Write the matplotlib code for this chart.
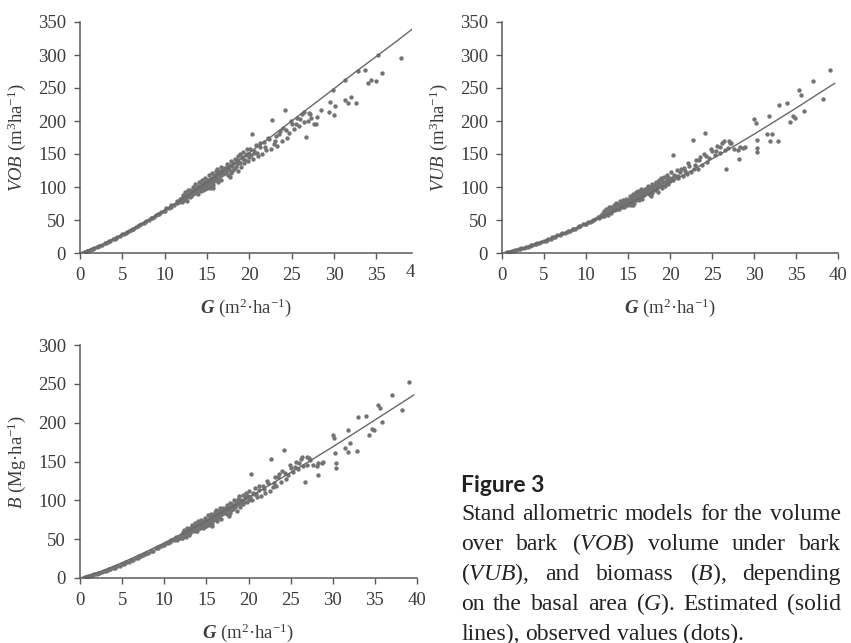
import numpy as np
import matplotlib
matplotlib.use("Agg")
import matplotlib.pyplot as plt

# observed stands (same plots in every panel), G <= 28
G_common = [0.6, 0.9, 1.2, 1.4, 1.7, 2.0, 2.3, 2.6, 2.9, 3.1, 3.4, 3.6, 3.9, 4.1, 4.4, 4.7, 5.0, 5.2, 5.5, 5.8,
            6.0, 6.3, 6.6, 6.9, 7.2, 7.5, 7.8, 8.1, 8.4, 8.7, 9.0, 9.3, 9.6, 9.9, 10.2, 10.5, 10.8, 11.1, 11.4, 11.7,
            12.0, 12.1, 12.2, 12.3, 12.4, 12.5, 12.6, 12.7, 12.8, 12.9, 13.0, 13.1, 13.2, 13.3, 13.4, 13.5, 13.6, 13.7,
            13.8, 13.9, 14.0, 14.1, 14.2, 14.3, 14.4, 14.5, 14.6, 14.7, 14.8, 14.9, 14.95, 15.0, 15.1, 15.2, 15.3, 15.4,
            15.5, 15.6, 15.65, 15.7, 15.8, 15.85, 15.9, 16.0, 16.1, 16.2, 16.3, 16.4, 16.5, 16.6, 16.7, 16.8, 16.9, 17.0,
            17.2, 17.4, 17.5, 17.6, 17.7, 17.8, 17.9, 18.0, 18.2, 18.3, 18.5, 18.6, 18.7, 18.8, 18.9, 19.0, 19.2, 19.3,
            19.4, 19.6, 19.7, 19.8, 19.9, 20.0, 20.1, 20.3, 20.4, 20.6, 20.8, 21.0, 21.2, 21.5, 21.7, 22.0, 22.3, 22.5,
            22.7, 22.9, 23.1, 23.3, 23.6, 23.8, 24.0, 24.2, 24.4, 24.7, 25.0, 25.3, 25.6, 25.9, 26.2, 26.5, 26.7, 27.0,
            27.3, 27.6]
VOB_common = [2.0, 3.5, 4.9, 5.8, 7.6, 9.0, 10.9, 12.4, 14.6, 15.2, 17.6, 18.3, 20.8, 21.3, 24.0, 25.4, 28.1, 28.6, 31.8, 32.6,
              35.4, 36.5, 39.6, 40.6, 44.1, 45.0, 48.6, 49.5, 53.2, 54.0, 57.9, 58.6, 62.8, 63.5, 67.9, 68.2, 72.8, 73.0, 78.5, 77.2,
              84, 78, 88, 80, 92, 83, 79, 95, 86, 90, 96, 86, 92, 100, 89, 95, 104, 93,
              99, 90, 108, 96, 102, 94, 111, 100, 106, 97, 113, 103, 99, 110, 104, 118, 99, 112,
              107, 121, 98, 103, 115, 118, 110, 124, 113, 127, 108, 120, 116, 131, 111, 124, 119, 129,
              122, 135, 118, 128, 115, 139, 125, 132, 128, 143, 135, 124, 147, 138, 150, 131, 142, 153,
              136, 148, 157, 140, 150, 145, 158, 180, 143, 152, 163, 147, 160, 150, 168, 156, 172, 158,
              202, 165, 178, 162, 185, 170, 190, 216, 175, 182, 195, 188, 205, 193, 210, 198, 176, 212,
              204, 196]
VUB_common = [1.3, 2.2, 3.1, 3.7, 4.9, 5.8, 7.0, 8.0, 9.4, 9.8, 11.4, 11.8, 13.5, 13.9, 15.7, 16.6, 18.5, 18.9, 21.1, 21.7,
              23.6, 24.4, 26.6, 27.3, 29.8, 30.4, 33.0, 33.7, 36.3, 36.9, 39.7, 40.2, 43.3, 43.8, 47.0, 47.3, 50.6, 50.8, 54.8, 53.9,
              60, 56, 64, 58, 66, 60, 57, 69, 62, 65, 70, 63, 67, 73, 65, 69, 76, 68,
              72, 66, 79, 70, 74, 69, 81, 73, 77, 71, 82, 75, 72, 81, 77, 87, 73, 83,
              79, 90, 73, 76, 85, 87, 81, 92, 84, 94, 80, 89, 86, 97, 82, 92, 88, 97,
              92, 101, 89, 96, 86, 104, 94, 99, 96, 107, 101, 93, 110, 104, 113, 98, 107, 115,
              102, 111, 118, 105, 113, 109, 122, 148, 110, 117, 126, 113, 123, 116, 129, 120, 132, 122,
              171, 127, 141, 128, 146, 134, 150, 182, 138, 144, 154, 149, 162, 152, 166, 156, 128, 170,
              166, 158]
B_common = [1.3, 2.1, 3.0, 3.6, 4.7, 5.6, 6.8, 7.7, 9.1, 9.5, 11.0, 11.4, 13.0, 13.4, 15.1, 16.0, 17.8, 18.2, 20.3, 20.9,
            22.7, 23.5, 25.6, 26.3, 28.6, 29.2, 31.7, 32.4, 34.8, 35.4, 38.1, 38.6, 41.5, 42.0, 45.0, 45.2, 48.4, 48.6, 52.4, 51.5,
            56, 52, 59, 54, 62, 56, 53, 64, 58, 60, 65, 58, 62, 68, 60, 64, 71, 63,
            67, 61, 73, 65, 69, 64, 75, 68, 72, 66, 77, 70, 67, 75, 72, 81, 68, 77,
            74, 83, 67, 71, 79, 81, 76, 85, 78, 87, 74, 83, 80, 90, 76, 85, 82, 90,
            85, 94, 82, 89, 80, 97, 87, 92, 89, 100, 94, 86, 102, 96, 105, 91, 99, 107,
            95, 103, 110, 98, 105, 101, 112, 134, 101, 108, 116, 104, 113, 106, 119, 110, 122, 112,
            153, 117, 130, 118, 134, 123, 138, 165, 127, 132, 142, 137, 149, 140, 153, 144, 124, 156,
            152, 146]

# more stands from the crowded part of the cloud
G_more = [0.8, 1.5, 2.2, 3.3, 4.2, 5.4, 6.2, 7.0, 7.7, 8.5, 9.2, 10.0, 10.7,
          11.5, 11.8, 12.05, 12.35, 12.65, 12.95, 13.15, 13.45, 13.75, 13.95, 14.15, 14.35, 14.55, 14.75, 14.85,
          15.05, 15.25, 15.45, 15.55, 15.75, 15.95, 16.15, 16.35, 16.45, 16.65, 16.85, 17.1, 17.3, 17.45, 17.65, 17.85,
          18.1, 18.4, 18.55, 18.95, 19.1, 19.5, 19.75, 20.2, 20.5, 20.9, 21.3, 21.8, 22.2, 23.0, 23.5, 24.3, 24.9,
          25.5, 26.0, 26.4, 26.9, 27.2]
VOB_more = [3.0, 6.6, 10.4, 16.4, 22.6, 30.4, 36.0, 42.8, 46.8, 52.6, 59.5, 64.2, 70.0,
            76, 82, 79, 86, 90, 85, 94, 98, 91, 101, 99, 104, 96, 108, 101,
            106, 110, 102, 114, 108, 117, 120, 112, 125, 118, 127, 121, 130, 126, 133, 121,
            137, 131, 141, 136, 146, 141, 150, 148, 155, 152, 166, 160, 175, 170, 180, 186, 200,
            196, 203, 214, 200, 210]
VUB_more = [1.9, 4.2, 6.6, 10.6, 14.6, 20.0, 24.0, 28.9, 31.8, 36.0, 41.0, 44.6, 48.7,
            53, 57, 56, 61, 64, 61, 68, 71, 66, 74, 73, 76, 70, 80, 75,
            79, 82, 76, 85, 81, 87, 90, 84, 93, 88, 95, 91, 98, 95, 100, 91,
            103, 99, 106, 103, 110, 107, 114, 113, 118, 117, 128, 124, 136, 133, 141, 147, 158,
            155, 161, 170, 159, 167]
B_more = [1.9, 4.0, 6.4, 10.2, 14.0, 19.2, 23.0, 27.7, 30.5, 34.5, 39.3, 42.7, 46.6,
          49, 52, 52, 56, 59, 56, 63, 65, 61, 68, 67, 70, 64, 74, 69,
          73, 75, 70, 78, 75, 80, 83, 77, 86, 81, 87, 84, 90, 87, 92, 84,
          95, 91, 98, 95, 101, 98, 105, 104, 109, 108, 118, 114, 125, 122, 130, 135, 145,
          143, 148, 156, 146, 154]

# sparse large-G stands
G_tail_vob = [27.9, 28.0, 28.5, 29.4, 29.5, 29.9, 30.0, 30.1, 31.25, 31.3, 31.6, 32.0, 32.6, 32.8, 33.7, 34.0, 34.4,
              35.0, 35.2, 35.6, 37.9]
VOB_tail = [195, 206, 217, 214, 229, 247, 209, 223, 232, 262, 227, 237, 227, 276, 278, 257, 262,
            260, 300, 273, 296]
G_tail_vub = [28.1, 28.2, 28.3, 28.7, 28.9, 30.0, 30.2, 30.3, 30.4, 30.35, 31.5, 31.8, 31.85, 32.1, 32.9, 33.0, 33.9,
              34.3, 34.6, 34.9, 35.4, 35.6, 35.9, 37.0, 38.2, 39.0]
VUB_tail = [156, 143, 161, 159, 161, 203, 197, 171, 159, 153, 181, 208, 170, 181, 170, 224, 227,
            199, 208, 204, 247, 240, 215, 260, 233, 278]
B_tail = [144, 133, 148, 148, 149, 184, 180, 161, 148, 142, 168, 191, 162, 174, 163, 207, 209,
          184, 192, 190, 223, 219, 201, 236, 216, 253]

# fitted models (solid lines)
G_fit = [0, 2.5, 5, 7.5, 10, 12.5, 15, 17.5, 20, 22.5, 25, 27.5, 30, 32.5, 35, 37.5, 39.6]
VOB_fit = [0, 12, 28, 46, 65, 85.5, 107, 129, 152, 175.6, 200, 224.6, 249, 274, 298, 322, 343]
VUB_fit = [0, 7.4, 18.1, 30.4, 44, 58.6, 74, 90.2, 107, 124.5, 142.6, 161, 180, 199.6, 219.5, 240, 257]
B_fit = [0, 8.6, 19.7, 32, 45.2, 59.1, 73.5, 88.5, 103.8, 119.6, 135.8, 152.2, 168.9, 186, 203.4, 220.8, 235.5]

W, H = 851, 643
DOT, LINE, AX, TXT = "#737373", "#686868", "#5a5a5a", "#3c3c3c"

plt.rcParams.update({
    "font.family": ["Liberation Serif", "DejaVu Serif"],
    "mathtext.fontset": "custom",
    "mathtext.rm": "Liberation Serif",
    "mathtext.it": "Liberation Serif:italic",
    "mathtext.bf": "Liberation Serif:bold",
    "mathtext.bfit": "Liberation Serif:italic:bold",
})

fig = plt.figure(figsize=(W / 100, H / 100), dpi=100, facecolor="white")


def px_axes(x0, x1, y_top, y_bot):
    return fig.add_axes([x0 / W, 1 - y_bot / H, (x1 - x0) / W, (y_bot - y_top) / H])


def style(ax, xmax, ymax, ylabel):
    ax.set_xlim(0, xmax)
    ax.set_ylim(0, ymax)
    ax.set_xticks([v for v in range(0, 41, 5) if v <= xmax])
    ax.set_yticks(range(0, ymax + 1, 50))
    for s in ["top", "right"]:
        ax.spines[s].set_visible(False)
    for s in ["left", "bottom"]:
        ax.spines[s].set_color(AX)
        ax.spines[s].set_linewidth(1.1)
    ax.tick_params(direction="out", length=4, width=1.0, color=AX, labelsize=13.5, labelcolor=TXT, pad=6)
    ax.set_xlabel(r"$\mathbfit{G}$ (m$^{\mathrm{2}}$·ha$^{\mathrm{-1}}$)", fontsize=13.5, color=TXT, labelpad=9)
    ax.set_ylabel(ylabel, fontsize=13.5, color=TXT, labelpad=7)


panels = [
    ((80, 412, 22, 253), 39.2, 350, G_common + G_more + G_tail_vob, VOB_common + VOB_more + VOB_tail, VOB_fit,
     r"$\mathit{VOB}$ (m$^{\mathrm{3}}$ha$^{\mathrm{-1}}$)"),
    ((502, 838, 22, 253), 40, 350, G_common + G_more + G_tail_vub, VUB_common + VUB_more + VUB_tail, VUB_fit,
     r"$\mathit{VUB}$ (m$^{\mathrm{3}}$ha$^{\mathrm{-1}}$)"),
    ((80, 417, 345, 578), 40, 300, G_common + G_more + G_tail_vub, B_common + B_more + B_tail, B_fit,
     r"$\mathit{B}$ (Mg·ha$^{\mathrm{-1}}$)"),
]

axes = []
for box, xmax, ymax, gx, gy, fit, ylab in panels:
    ax = px_axes(*box)
    ax.scatter(gx, gy, s=10, color=DOT, linewidths=0, zorder=2)
    ax.plot(G_fit, fit, color=LINE, lw=1.0, zorder=3)
    style(ax, xmax, ymax, ylab)
    axes.append(ax)

# first panel is cut at its right edge in the source: only the "4" of "40" is left
fig.text(406 / W, 1 - 264 / H, "4", fontsize=13.5, color=TXT, va="top", ha="left")

# caption
fig.text(461 / W, 1 - 492 / H, "Figure 3", fontsize=16.5, fontweight="bold", family=["Lato", "DejaVu Sans"],
         color="#222222", va="baseline")
cap = ["Stand allometric models for the volume",
       r"over bark ($\mathit{VOB}$) volume under bark",
       r"($\mathit{VUB}$), and biomass ($\mathit{B}$), depending",
       r"on the basal area ($\mathit{G}$). Estimated (solid",
       "lines), observed values (dots)."]
x0, x1, fs = 461, 841, 17
r = fig.canvas.get_renderer()
for i, line in enumerate(cap):
    y = 1 - (520 + 30 * i) / H
    words = line.split()
    objs = [fig.text(0, y, w, fontsize=fs, color="#222222", va="baseline") for w in words]
    widths = [o.get_window_extent(r).width for o in objs]
    space = fs * 0.25 * 100 / 72
    if i < len(cap) - 1:
        space = (x1 - x0 - sum(widths)) / (len(words) - 1)
    x = x0
    for o, w in zip(objs, widths):
        o.set_x(x / W)
        x += w + space

fig.savefig("out.png", dpi=100, facecolor="white")
